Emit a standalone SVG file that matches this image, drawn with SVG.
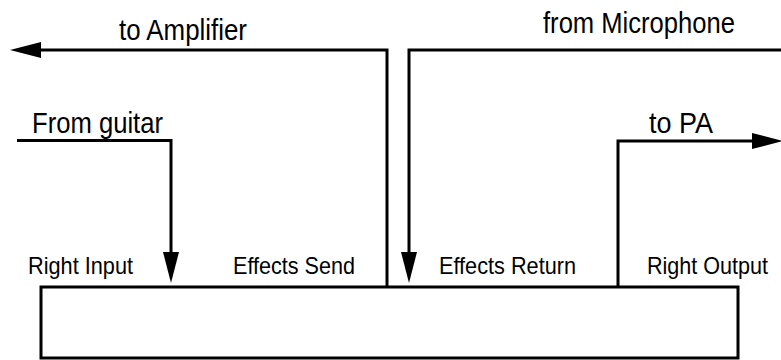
<svg xmlns="http://www.w3.org/2000/svg" width="781" height="360" viewBox="0 0 781 360">
  <style>
    .lbl { font-family: "Liberation Sans", Arial, sans-serif; fill: #000; }
    .big { font-size: 29px; }
    .port { font-size: 24px; }
    .wire { fill: none; stroke: #000; stroke-width: 3; stroke-linejoin: miter; stroke-linecap: butt; }
    .box { fill: #fff; stroke: #000; stroke-width: 3; }
  </style>
  <defs>
    <marker id="arrow" markerUnits="userSpaceOnUse" markerWidth="34" markerHeight="20" viewBox="0 -10 34 20" refX="0" refY="0" orient="auto" overflow="visible">
      <path d="M0,-8 L31,0 L0,8 Z" fill="#000"/>
    </marker>
  </defs>

  <g id="unit">
    <rect class="box" x="41" y="287" width="697" height="71"/>
    <text class="lbl port" x="28" y="274" textLength="105" lengthAdjust="spacingAndGlyphs">Right Input</text>
    <text class="lbl port" x="233" y="274" textLength="122" lengthAdjust="spacingAndGlyphs">Effects Send</text>
    <text class="lbl port" x="439" y="274" textLength="137" lengthAdjust="spacingAndGlyphs">Effects Return</text>
    <text class="lbl port" x="647" y="274" textLength="121" lengthAdjust="spacingAndGlyphs">Right Output</text>
  </g>

  <g id="guitar">
    <text class="lbl big" x="32" y="133" textLength="131" lengthAdjust="spacingAndGlyphs">From guitar</text>
  </g>
  <g id="amplifier">
    <text class="lbl big" x="119" y="40" textLength="128" lengthAdjust="spacingAndGlyphs">to Amplifier</text>
  </g>
  <g id="microphone">
    <text class="lbl big" x="543" y="33" textLength="192" lengthAdjust="spacingAndGlyphs">from Microphone</text>
  </g>
  <g id="pa">
    <text class="lbl big" x="649" y="133" textLength="64" lengthAdjust="spacingAndGlyphs">to PA</text>
  </g>

  <g id="connectors">
    <path class="wire" d="M17,140.5 H171 V252" marker-end="url(#arrow)"/>
    <path class="wire" d="M387,287 V50 H41" marker-end="url(#arrow)"/>
    <path class="wire" d="M782,50 H409 V252" marker-end="url(#arrow)"/>
    <path class="wire" d="M618,287 V141 H752" marker-end="url(#arrow)"/>
  </g>
</svg>
